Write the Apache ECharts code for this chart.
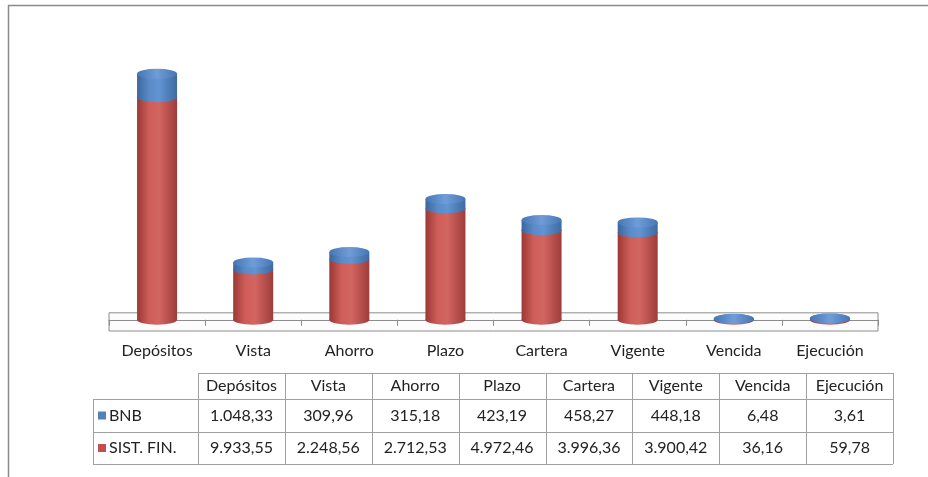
<!DOCTYPE html>
<html>
<head>
<meta charset="utf-8">
<title>BNB vs Sist. Fin.</title>
<script src="https://cdn.jsdelivr.net/npm/echarts@6/dist/echarts.min.js"></script>
<style>
  html, body { margin: 0; padding: 0; background: #fff; }
  #main { width: 928px; height: 477px; }
</style>
</head>
<body>
<div id="main"></div>
<script>
// datos
var categories = ['Depósitos', 'Vista', 'Ahorro', 'Plazo', 'Cartera', 'Vigente', 'Vencida', 'Ejecución'];
var bnb = [1048.33, 309.96, 315.18, 423.19, 458.27, 448.18, 6.48, 3.61];
var sistFin = [9933.55, 2248.56, 2712.53, 4972.46, 3996.36, 3900.42, 36.16, 59.78];
var seriesNames = ['BNB', 'SIST. FIN.'];
var seriesColors = ['#4f81bd', '#c0504d'];

var FONT = 'Lato';
var totals = bnb.map(function (v, i) { return v + sistFin[i]; });

// 1.048,33
function fmt(v) {
    var p = v.toFixed(2).split('.');
    return p[0].replace(/\B(?=(\d{3})+(?!\d))/g, '.') + ',' + p[1];
}

function grad(stops) {
    return new echarts.graphic.LinearGradient(0, 0, 1, 0, stops.map(function (s) {
        return { offset: s[0], color: s[1] };
    }));
}
var redCyl = grad([[0, '#9a3835'], [0.3, '#cf5d59'], [0.55, '#d36561'], [1, '#9e3d3a']]);
var blueCyl = grad([[0, '#3a669b'], [0.3, '#5a8bc8'], [0.55, '#6194d1'], [1, '#3d6aa1']]);
var blueTop = grad([[0, '#4676b4'], [0.5, '#6f9dd8'], [1, '#4676b4']]);

var ellipse = 'path://M0,50 A100,50 0 1,0 200,50 A100,50 0 1,0 0,50 Z';
var BW = 40, EH = 10;

// tabla de datos (graphic)
var tblX0 = 93, colX0 = 198, colW = 86.875;
var rowY = [373, 399, 432, 464];
var lineCol = '#a0a0a0';
var g = [];
function hline(x1, x2, y) {
    g.push({ type: 'line', silent: true, shape: { x1: x1, y1: y + 0.5, x2: x2, y2: y + 0.5 }, style: { stroke: lineCol, lineWidth: 1 } });
}
function vline(x, y1, y2) {
    g.push({ type: 'line', silent: true, shape: { x1: x + 0.5, y1: y1, x2: x + 0.5, y2: y2 }, style: { stroke: lineCol, lineWidth: 1 } });
}
var xEnd = colX0 + colW * categories.length;
hline(colX0, xEnd, rowY[0]);
hline(tblX0, xEnd, rowY[1]);
hline(tblX0, xEnd, rowY[2]);
hline(tblX0, xEnd, rowY[3]);
vline(tblX0, rowY[1], rowY[3]);
for (var c = 0; c <= categories.length; c++) {
    vline(Math.round(colX0 + colW * c), rowY[0], rowY[3]);
}
function cellText(txt, x, y, align) {
    g.push({
        type: 'text', silent: true, x: x, y: y,
        style: { text: txt, fill: '#222', font: '16px ' + FONT, align: align || 'center', verticalAlign: 'middle' }
    });
}
categories.forEach(function (name, i) {
    var cx = colX0 + colW * (i + 0.5);
    cellText(name, cx, (rowY[0] + rowY[1]) / 2);
    cellText(fmt(bnb[i]), cx, (rowY[1] + rowY[2]) / 2);
    cellText(fmt(sistFin[i]), cx, (rowY[2] + rowY[3]) / 2);
});
seriesNames.forEach(function (name, k) {
    var cy = (rowY[k + 1] + rowY[k + 2]) / 2;
    g.push({ type: 'rect', silent: true, shape: { x: 98, y: cy - 4, width: 8, height: 8 }, style: { fill: seriesColors[k] } });
    cellText(name, 109, cy, 'left');
});
// marco
g.push({ type: 'polyline', silent: true, shape: { points: [[8.5, 477], [8.5, 5.5], [928, 5.5]] }, style: { stroke: '#8a8a8a', lineWidth: 1.5, fill: null } });

var myChart = echarts.init(document.getElementById('main'));

var option = {
    animation: false,
    backgroundColor: '#fff',
    grid: { left: 109, right: 50, top: 60, bottom: 146 },
    xAxis: {
        type: 'category',
        data: categories,
        axisLine: { lineStyle: { color: '#8c8c8c', width: 1 } },
        axisTick: { show: true, length: 6, lineStyle: { color: '#8c8c8c' } },
        axisLabel: { interval: 0, margin: 12, fontSize: 16, color: '#222', fontFamily: FONT }
    },
    yAxis: {
        type: 'value',
        min: -500,
        max: 11600,
        axisLine: { show: false },
        axisTick: { show: false },
        axisLabel: { show: false },
        splitLine: { show: false }
    },
    graphic: g,
    series: [
        {
            // piso 3D
            type: 'line', data: [], z: 0, silent: true,
            markArea: {
                silent: true, z: 0,
                itemStyle: { color: '#fcfcfc', borderColor: '#8c8c8c', borderWidth: 1 },
                data: [[{ yAxis: -500 }, { yAxis: 312 }]]
            }
        },
        {
            name: seriesNames[1], type: 'pictorialBar', z: 1, silent: true,
            symbol: ellipse, symbolSize: [BW, EH], symbolPosition: 'start', symbolOffset: [0, '50%'],
            barWidth: BW, barGap: '-100%',
            itemStyle: { color: redCyl },
            data: sistFin
        },
        {
            name: seriesNames[1], type: 'bar', stack: 'x', z: 2, barWidth: BW,
            itemStyle: { color: redCyl },
            data: sistFin
        },
        {
            name: seriesNames[0], type: 'bar', stack: 'x', z: 2, barWidth: BW,
            itemStyle: { color: blueCyl },
            data: bnb
        },
        {
            name: seriesNames[0], type: 'pictorialBar', z: 3, silent: true,
            symbol: ellipse, symbolSize: [BW, EH], symbolPosition: 'end', symbolOffset: [0, '-50%'],
            barWidth: BW, barGap: '-100%',
            itemStyle: { color: blueCyl },
            data: sistFin
        },
        {
            name: seriesNames[0], type: 'pictorialBar', z: 4, silent: true,
            symbol: ellipse, symbolSize: [BW, EH], symbolPosition: 'end', symbolOffset: [0, '-50%'],
            barWidth: BW, barGap: '-100%',
            itemStyle: { color: blueTop },
            data: totals
        }
    ]
};

myChart.setOption(option);
</script>
</body>
</html>
